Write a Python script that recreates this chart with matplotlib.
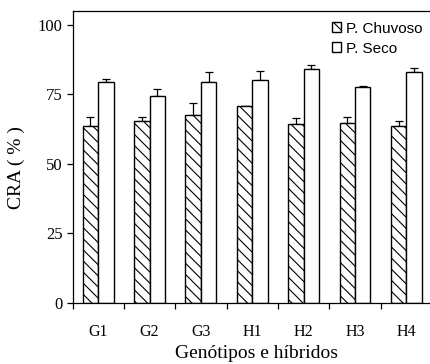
import matplotlib
matplotlib.use("Agg")
import matplotlib.pyplot as plt
import numpy as np

categories = ["G1", "G2", "G3", "H1", "H2", "H3", "H4"]
chuvoso = [63.7, 65.3, 67.4, 70.9, 64.3, 64.7, 63.7]
chuvoso_err = [3.1, 1.5, 4.3, 0.0, 2.0, 2.1, 1.5]
seco = [79.5, 74.3, 79.5, 80.0, 84.0, 77.6, 83.0]
seco_err = [0.8, 2.6, 3.5, 3.5, 1.4, 0.3, 1.5]
yticks = [0, 25, 50, 75, 100]

W, H = 430, 364
fig = plt.figure(figsize=(W / 100, H / 100), dpi=100)
left, bottom, top = 72.5, 303, 10.7
ax = fig.add_axes([left / W, (H - bottom) / H, 359.5 / W, (bottom - top) / H])

plt.rcParams['hatch.linewidth'] = 0.8
x = np.arange(len(categories)) + 0.5
bw = 0.3
ax.bar(x - bw / 2, chuvoso, bw, color="white", edgecolor="black", linewidth=1.0,
       hatch="\\\\\\", label="P. Chuvoso", zorder=2)
ax.bar(x + bw / 2, seco, bw, color="white", edgecolor="black", linewidth=1.0,
       label="P. Seco", zorder=2)
ax.errorbar(x - bw / 2, chuvoso, yerr=[np.zeros(len(chuvoso)), chuvoso_err], fmt="none",
            ecolor="black", elinewidth=0.9, capsize=3.2, capthick=0.9, zorder=1)
ax.errorbar(x + bw / 2, seco, yerr=[np.zeros(len(seco)), seco_err], fmt="none",
            ecolor="black", elinewidth=0.9, capsize=3.2, capthick=0.9, zorder=1)

ax.set_xlim(0, 7)
ax.set_ylim(0, 105)
ax.set_yticks(yticks)
ax.set_xticks(np.arange(0, 8))
ax.set_xticklabels([])
ax.set_xticks(x, minor=True)
ax.set_xticklabels(categories, minor=True, fontfamily="Liberation Serif", fontsize=11.5)
ax.tick_params(axis="x", which="minor", length=0, pad=15)
ax.tick_params(axis="x", which="major", direction="out", length=4, width=0.9)
ax.tick_params(axis="y", direction="out", length=4, width=0.9, pad=3)
for lab in ax.get_yticklabels():
    lab.set_fontfamily("Liberation Serif")
    lab.set_fontsize(12)
for s in ax.spines.values():
    s.set_linewidth(0.9)

ax.set_ylabel("CRA ( % )", fontfamily="Liberation Serif", fontsize=14)
ax.yaxis.set_label_coords(-0.132, 0.465)
ax.set_xlabel("Genótipos e híbridos", fontfamily="Liberation Serif", fontsize=14)
ax.xaxis.set_label_coords(0.513, -0.145)

leg = ax.legend(loc="upper left", bbox_to_anchor=(0.7218, 0.963), frameon=False,
                prop={"family": "Liberation Sans", "size": 11},
                handlelength=0.6, handleheight=0.6, handletextpad=0.3,
                labelspacing=0.4, borderaxespad=0, borderpad=0)

fig.savefig("out.png", dpi=100)
